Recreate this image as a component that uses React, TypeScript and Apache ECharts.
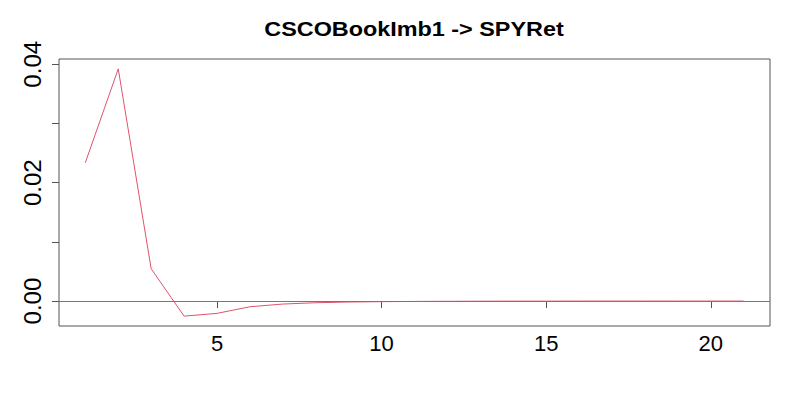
import React, { useEffect, useRef } from "react";
import * as echarts from "echarts";

const titleText = "CSCOBookImb1 -> SPYRet";
const lags = [1, 2, 3, 4, 5, 6, 7, 8, 9, 10, 11, 12, 13, 14, 15, 16, 17, 18, 19, 20, 21];
const values = [
  0.02338, 0.03922, 0.00546, -0.00254, -0.00208, -0.00096, -0.0005, -0.00028, -0.00016,
  -0.0001, -0.00006, -0.00004, -0.00002, -0.00001, -0.00001, 0, 0, 0, 0, 0, 0,
];
const xTicks = [5, 10, 15, 20];
const yTicks = [0, 0.01, 0.02, 0.03, 0.04];
const yLabels = [0, 0.02, 0.04];

export default function App() {
  const ref = useRef<HTMLDivElement>(null);
  useEffect(() => {
    if (!ref.current) return;
    document.body.style.margin = "0";
    const chart = echarts.init(ref.current, undefined, { renderer: "svg" });
    const font = "'Liberation Sans', Arial, Helvetica, sans-serif";
    const xmin = 1 - 0.04 * 20;
    const xmax = 21 + 0.04 * 20;
    const lo = Math.min(...values);
    const hi = Math.max(...values);
    const pad = (hi - lo) * 0.04;
    chart.setOption({
      animation: false,
      backgroundColor: "#ffffff",
      graphic: [
        {
          type: "text",
          x: 414,
          y: 30,
          scaleX: 1.2,
          style: {
            text: titleText,
            font: `bold 19.5px ${font}`,
            fill: "#000",
            textAlign: "center",
            textVerticalAlign: "middle",
          },
        },
      ],
      grid: {
        left: 59,
        right: 30,
        top: 59,
        bottom: 74,
        show: true,
        borderColor: "#555",
        borderWidth: 1,
        backgroundColor: "transparent",
      },
      xAxis: {
        type: "value",
        min: xmin,
        max: xmax,
        splitLine: { show: false },
        axisLine: { show: false },
        axisTick: {
          show: true,
          length: 7,
          customValues: xTicks,
          lineStyle: { color: "#555", width: 1 },
        },
        axisLabel: {
          customValues: xTicks,
          fontSize: 22,
          fontFamily: font,
          color: "#000",
          margin: 6,
        },
      },
      yAxis: {
        type: "value",
        min: lo - pad,
        max: hi + pad,
        splitLine: { show: false },
        axisLine: { show: false },
        axisTick: {
          show: true,
          length: 7,
          customValues: yTicks,
          lineStyle: { color: "#555", width: 1 },
        },
        axisLabel: {
          customValues: yLabels,
          rotate: 90,
          fontSize: 24,
          fontFamily: font,
          color: "#000",
          margin: 15,
          formatter: (v: number) => v.toFixed(2),
        },
      },
      series: [
        {
          type: "line",
          data: lags.map((l, i) => [l, values[i]]),
          showSymbol: false,
          symbol: "none",
          lineStyle: { color: "#DF536B", width: 1 },
          markLine: {
            silent: true,
            symbol: "none",
            label: { show: false },
            lineStyle: { color: "#777", width: 1, type: "solid" },
            data: [{ yAxis: 0 }],
          },
        },
      ],
    });
    return () => chart.dispose();
  }, []);
  return <div ref={ref} style={{ width: 800, height: 400 }} />;
}
